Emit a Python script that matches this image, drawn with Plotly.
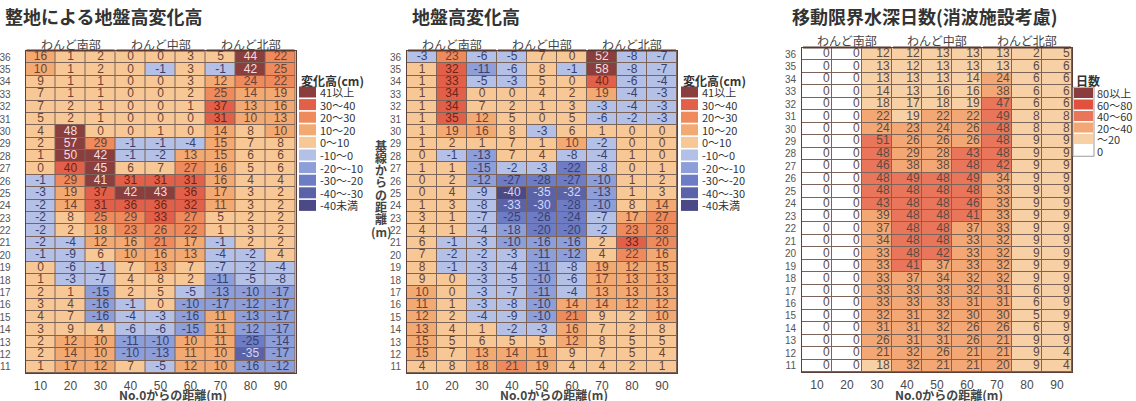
import plotly.graph_objects as go

W, H = 1136, 401

# ---- data -------------------------------------------------------------
distance_cols = [10, 20, 30, 40, 50, 60, 70, 80, 90]
baseline_rows = list(range(36, 10, -1))          # 36 .. 11
groups = ["わんど南部", "わんど中部", "わんど北部"]

# 整地による地盤高変化高 (cm), rows 36 -> 11
leveling_change = [
    [16, 1, 2, 0, 0, 3, 5, 44, 22],
    [10, 1, 2, 0, -1, 3, -1, 42, 25],
    [9, 1, 1, 0, 0, 3, 12, 24, 22],
    [7, 1, 1, 0, 0, 2, 25, 14, 19],
    [7, 2, 1, 0, 0, 1, 37, 13, 16],
    [5, 2, 1, 0, 0, 0, 31, 10, 13],
    [4, 48, 0, 0, 1, 0, 14, 8, 10],
    [2, 57, 29, -1, -1, -4, 15, 7, 8],
    [1, 50, 42, -1, -2, 13, 15, 6, 6],
    [0, 40, 45, 6, 7, 27, 16, 5, 6],
    [-1, 29, 41, 31, 31, 31, 16, 4, 4],
    [-3, 19, 37, 42, 43, 36, 17, 3, 2],
    [-2, 14, 31, 36, 36, 32, 11, 3, 2],
    [-2, 8, 25, 29, 33, 27, 5, 2, 2],
    [-2, 2, 18, 23, 26, 22, 1, 3, 2],
    [-2, -4, 12, 16, 21, 17, -1, 2, 2],
    [-1, -9, 6, 10, 16, 13, -4, -2, 4],
    [0, -6, -1, 7, 13, 7, -7, -2, -4],
    [1, -3, -7, 4, 8, 2, -11, -5, -8],
    [2, 1, -15, 2, 5, -5, -13, -10, -17],
    [3, 4, -16, -1, 0, -10, -17, -12, -17],
    [4, 7, -16, -4, -3, -16, 11, -13, -17],
    [3, 9, 4, -6, -6, -15, 11, -12, -17],
    [2, 12, 10, -11, -10, 10, 11, -25, -14],
    [2, 14, 10, -10, -13, 11, 10, -35, -17],
    [1, 17, 12, 7, -5, 12, 10, -16, -12],
]

# 地盤高変化高 (cm), rows 36 -> 11
ground_change = [
    [-3, 23, -6, -5, 7, 0, 52, -8, -7],
    [1, 32, -11, -6, 8, -1, 58, -8, -7],
    [1, 33, -5, -3, 5, 0, 40, -6, -4],
    [1, 34, 0, 0, 4, 2, 19, -4, -3],
    [1, 34, 7, 2, 1, 3, -3, -4, -3],
    [1, 35, 12, 5, 0, 5, -6, -2, -3],
    [1, 19, 16, 8, -3, 6, 1, 0, 0],
    [1, 2, 1, 7, 1, 10, -2, 0, 0],
    [0, -1, -13, 7, 4, -8, -4, 1, 0],
    [1, 1, -15, -2, -3, -22, -8, 0, 1],
    [0, 2, -12, -27, -28, -27, -10, 1, 2],
    [0, 4, -9, -40, -35, -32, -13, 1, 3],
    [1, 3, -8, -33, -30, -28, -10, 8, 14],
    [3, 1, -7, -25, -26, -24, -7, 17, 27],
    [4, 1, -4, -18, -20, -20, -2, 23, 28],
    [6, -1, -3, -10, -16, -16, 2, 33, 20],
    [7, -2, -2, -3, -11, -12, 4, 22, 16],
    [8, -1, -3, -4, -11, -8, 19, 12, 15],
    [9, 0, -3, -5, -10, -6, 17, 13, 13],
    [10, 0, -3, -7, -11, -4, 13, 13, 13],
    [11, 1, -3, -8, -10, 14, 14, 12, 12],
    [12, 2, -4, -9, -10, 21, 9, 2, 10],
    [13, 4, 1, -2, -3, 16, 7, 2, 8],
    [15, 5, 6, 5, 5, 12, 8, 5, 5],
    [15, 7, 13, 14, 11, 9, 7, 5, 4],
    [4, 8, 18, 21, 19, 4, 4, 2, 1],
]

# 移動限界水深日数 (days), rows 36 -> 11
limit_days = [
    [0, 0, 12, 12, 13, 13, 13, 2, 5],
    [0, 0, 13, 12, 13, 13, 13, 6, 6],
    [0, 0, 13, 13, 13, 14, 24, 6, 6],
    [0, 0, 14, 13, 16, 16, 38, 6, 6],
    [0, 0, 18, 17, 18, 19, 47, 6, 6],
    [0, 0, 22, 19, 22, 22, 49, 8, 8],
    [0, 0, 24, 23, 24, 26, 48, 8, 8],
    [0, 0, 51, 26, 26, 26, 48, 9, 9],
    [0, 0, 48, 29, 28, 43, 48, 9, 9],
    [0, 0, 46, 38, 38, 48, 42, 9, 9],
    [0, 0, 48, 49, 48, 49, 34, 9, 9],
    [0, 0, 48, 48, 48, 48, 33, 9, 9],
    [0, 0, 43, 48, 48, 46, 33, 9, 9],
    [0, 0, 39, 48, 48, 41, 33, 9, 9],
    [0, 0, 37, 48, 48, 37, 33, 9, 9],
    [0, 0, 34, 48, 48, 33, 32, 9, 9],
    [0, 0, 33, 48, 42, 33, 32, 9, 9],
    [0, 0, 33, 41, 37, 33, 32, 9, 9],
    [0, 0, 33, 37, 34, 32, 32, 9, 9],
    [0, 0, 33, 33, 33, 32, 31, 6, 9],
    [0, 0, 33, 33, 33, 31, 31, 6, 9],
    [0, 0, 32, 31, 32, 30, 30, 5, 9],
    [0, 0, 31, 31, 32, 26, 26, 6, 9],
    [0, 0, 26, 31, 31, 26, 21, 9, 9],
    [0, 0, 21, 32, 26, 21, 21, 9, 4],
    [0, 0, 18, 32, 21, 21, 20, 9, 4],
]

# ---- colour classes ---------------------------------------------------
change_labels = ["41以上", "30～40", "20～30", "10～20", "0～10",
                 "-10～0", "-20～-10", "-30～-20", "-40～-30", "-40未満"]
change_colors = ["#8a3e3e", "#e2604a", "#ee8a5c", "#f3aa72", "#f7c896",
                 "#b5c0e6", "#8d9ed9", "#6d7cc4", "#5a62a8", "#4b4a86"]

days_labels = ["80以上", "60～80", "40～60", "20～40", "～20", "0"]
days_colors = ["#8b3d3d", "#e0513f", "#e9765a", "#f2a774", "#f8d0a6", "#ffffff"]


def change_class(v):
    # index into change_labels (0 = highest class)
    if v >= 41:
        return 0
    if v >= 30:
        return 1
    if v >= 20:
        return 2
    if v >= 10:
        return 3
    if v >= 0:
        return 4
    if v > -10:
        return 5
    if v > -20:
        return 6
    if v > -30:
        return 7
    if v > -40:
        return 8
    return 9


def days_class(v):
    if v >= 80:
        return 0
    if v >= 60:
        return 1
    if v >= 40:
        return 2
    if v >= 20:
        return 3
    if v > 0:
        return 4
    return 5


def discrete_scale(colors):
    n = len(colors)
    scale = []
    for i, c in enumerate(colors):
        scale.append([i / n, c])
        scale.append([(i + 1) / n, c])
    return scale


def change_text_color(v):
    k = change_class(v)
    if k == 0:
        return "#f6dcdc"
    if k in (8, 9):
        return "#d4d8f4"
    if k == 1:
        return "#6e2418"
    if v < 0:
        return "#39406e"
    return "#6a4436"


# ---- layout geometry (pixels) -----------------------------------------
panels = [
    dict(x0=25.5, x1=295.5, y0=51, y1=373),
    dict(x0=407, x1=677, y0=51, y1=373),
    dict(x0=802, x1=1072, y0=48, y1=372),
]


def px_x(p):
    return p / W


def px_y(p):
    return 1 - p / H


fig = go.Figure()

ncol = len(distance_cols)
tables = [leveling_change, ground_change, limit_days]

for pi, table in enumerate(tables):
    ax = "" if pi == 0 else str(pi + 1)
    xref, yref = "x" + ax, "y" + ax
    if pi < 2:
        cls = [[len(change_labels) - 1 - change_class(v) for v in row] for row in table]
        colors = change_colors[::-1]
    else:
        cls = [[len(days_labels) - 1 - days_class(v) for v in row] for row in table]
        colors = days_colors[::-1]
    n = len(colors)
    fig.add_trace(go.Heatmap(
        x=distance_cols, y=baseline_rows, z=cls,
        zmin=-0.5, zmax=n - 0.5,
        colorscale=discrete_scale(colors), showscale=False,
        xgap=1, ygap=1, hoverinfo="skip",
        xaxis=xref, yaxis=yref,
    ))

    xs, ys, txt, tcol = [], [], [], []
    for r, row in zip(baseline_rows, table):
        for c, v in zip(distance_cols, row):
            xs.append(c + (4.2 if pi == 2 else 0))
            ys.append(r)
            txt.append(str(v))
            tcol.append("#5e4a40" if pi == 2 else change_text_color(v))
    fig.add_trace(go.Scatter(
        x=xs, y=ys, text=txt, mode="text",
        textposition="middle left" if pi == 2 else "middle center",
        textfont=dict(family="Liberation Sans, Arial", size=12, color=tcol),
        hoverinfo="skip", showlegend=False,
        xaxis=xref, yaxis=yref,
    ))

axis_common = dict(showgrid=False, zeroline=False, showline=True, mirror=True,
                   linecolor="#5a4038", linewidth=1, ticks="",
                   tickfont=dict(family="Liberation Sans, Arial", size=12, color="#4a4a4a"))
for pi, p in enumerate(panels):
    ax = "" if pi == 0 else str(pi + 1)
    fig.layout["xaxis" + ax] = dict(
        domain=[px_x(p["x0"]), px_x(p["x1"])], range=[5, 95],
        tickvals=distance_cols, anchor="y" + ax, ticklabelstandoff=2, **axis_common)
    fig.layout["yaxis" + ax] = dict(
        domain=[px_y(p["y1"]), px_y(p["y0"])], range=[10.5, 36.5],
        tickvals=baseline_rows, anchor="x" + ax,
        ticklabelstandoff=(12 if pi == 0 else 3),
        **{**axis_common, "tickfont": dict(family="Liberation Sans, Arial", size=10, color="#555555")})

annotations = []
shapes = []
cjk = "Noto Sans CJK JP"

titles = ["整地による地盤高変化高", "地盤高変化高", "移動限界水深日数(消波施設考慮)"]
title_x = [3, 410, 790]
for t, x in zip(titles, title_x):
    annotations.append(dict(text="<b>" + t + "</b>", x=px_x(x), y=px_y(16), xref="paper", yref="paper",
                            xanchor="left", yanchor="middle", showarrow=False,
                            font=dict(family=cjk, size=18, color="#333333")))

for pi, p in enumerate(panels):
    cw = (p["x1"] - p["x0"]) / ncol
    for gi, g in enumerate(groups):
        gx0 = p["x0"] + gi * 3 * cw
        gx1 = gx0 + 3 * cw
        annotations.append(dict(text=g, x=px_x((gx0 + gx1) / 2), y=px_y(p["y0"] - 7),
                                xref="paper", yref="paper", showarrow=False,
                                xanchor="center", yanchor="middle",
                                font=dict(family=cjk, size=12, color="#444444")))
        shapes.append(dict(type="line", xref="paper", yref="paper",
                           x0=px_x(gx0 + 1), x1=px_x(gx1 - 1), y0=px_y(p["y0"] - 0.5), y1=px_y(p["y0"] - 0.5),
                           line=dict(color="#5a3a30", width=2)))
    annotations.append(dict(text="<b>No.0からの距離(m)</b>", x=px_x((p["x0"] + p["x1"]) / 2 + 12), y=px_y(394),
                            xref="paper", yref="paper", showarrow=False,
                            xanchor="center", yanchor="middle",
                            font=dict(family=cjk, size=12, color="#444444")))

# vertical axis title of the middle panel, one glyph per line
vertical_title = ["基", "線", "か", "ら", "の", "距", "離", "(m)"]
for i, ch in enumerate(vertical_title):
    annotations.append(dict(text="<b>" + ch + "</b>", x=px_x(381), y=px_y(145 + i * 12.3),
                            xref="paper", yref="paper", showarrow=False,
                            xanchor="center", yanchor="middle",
                            font=dict(family=cjk, size=12, color="#444444")))


def add_legend(x_sw, y_title, y_first, step, labels, colors, title, sw_w=17, sw_h=11, frame=False):
    annotations.append(dict(text="<b>" + title + "</b>", x=px_x(x_sw), y=px_y(y_title),
                            xref="paper", yref="paper", showarrow=False,
                            xanchor="left", yanchor="middle",
                            font=dict(family=cjk, size=12, color="#333333")))
    for i, (lab, col) in enumerate(zip(labels, colors)):
        yc = y_first + i * step
        shapes.append(dict(type="rect", xref="paper", yref="paper",
                           x0=px_x(x_sw), x1=px_x(x_sw + sw_w),
                           y0=px_y(yc + sw_h / 2), y1=px_y(yc - sw_h / 2),
                           fillcolor=col, line=dict(width=0)))
        annotations.append(dict(text=lab, x=px_x(x_sw + sw_w + 2), y=px_y(yc),
                                xref="paper", yref="paper", showarrow=False,
                                xanchor="left", yanchor="middle",
                                font=dict(family=cjk, size=11, color="#333333")))
    if frame:
        top = y_first - step / 2
        bottom = y_first + (len(labels) - 0.5) * step
        shapes.append(dict(type="rect", xref="paper", yref="paper",
                           x0=px_x(x_sw - 1), x1=px_x(x_sw + sw_w + 1),
                           y0=px_y(bottom), y1=px_y(top),
                           fillcolor="rgba(0,0,0,0)", line=dict(color="#9a9a9a", width=1)))


add_legend(299, 80, 92, 12.6, change_labels, change_colors, "変化高(cm)")
add_legend(681, 80, 92, 12.6, change_labels, change_colors, "変化高(cm)")
add_legend(1074, 80, 93, 11.5, days_labels, days_colors, "日数", sw_w=19, sw_h=10, frame=True)

fig.update_layout(
    width=W, height=H, margin=dict(l=0, r=0, t=0, b=0),
    paper_bgcolor="white", plot_bgcolor="#7d6458",
    showlegend=False, annotations=annotations, shapes=shapes,
)

fig.write_html("out.html")
